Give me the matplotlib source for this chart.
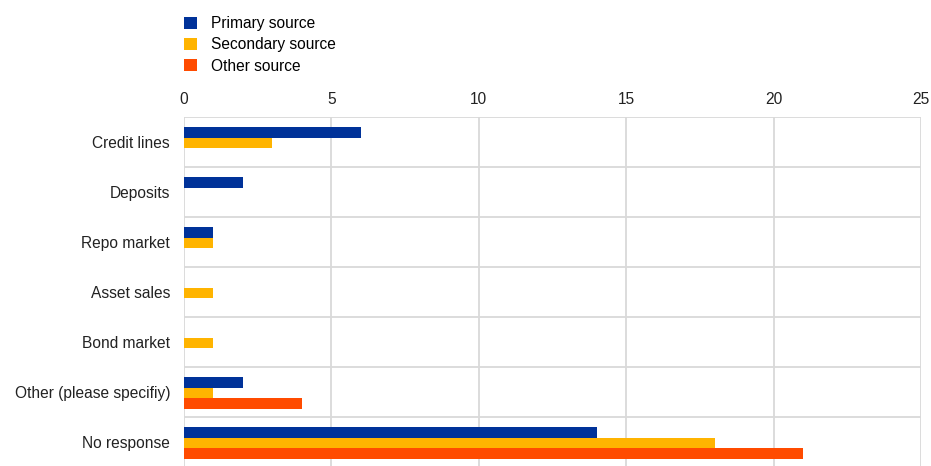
import matplotlib
matplotlib.use("Agg")
import matplotlib.pyplot as plt
import numpy as np

categories = ["Credit lines", "Deposits", "Repo market", "Asset sales",
              "Bond market", "Other (please specifiy)", "No response"]
primary = [6, 2, 1, 0, 0, 2, 14]
secondary = [3, 0, 1, 1, 1, 1, 18]
other = [0, 0, 0, 0, 0, 4, 21]
series_names = ["Primary source", "Secondary source", "Other source"]
colors = ["#003299", "#FFB400", "#FF4B00"]
xticks = [0, 5, 10, 15, 20, 25]

plt.rcParams['font.family'] = ['Liberation Sans', 'DejaVu Sans']

fig = plt.figure(figsize=(9.31, 4.66), dpi=100)
ax = fig.add_axes([184/931, -1/466, (921-184)/931, (467-117)/466])

y = np.arange(len(categories))
h = 0.21
for i, (vals, name, c) in enumerate(zip([primary, secondary, other], series_names, colors)):
    ax.barh(y + (i - 1) * h + 0.02, vals, height=h, color=c, label=name, zorder=3)

ax.set_xlim(0, 25)
ax.set_ylim(len(categories) - 0.5, -0.5)
ax.set_xticks(xticks)
ax.xaxis.tick_top()
ax.tick_params(axis='x', length=0, pad=7, labelsize=11.2, colors='#222222')
ax.set_yticks(y)
ax.set_yticklabels(categories)
ax.tick_params(axis='y', length=0, pad=10, labelsize=11.2, colors='#222222')

for s in ax.spines.values():
    s.set_visible(False)

ax.grid(axis='x', color='#d9d9d9', linewidth=1.3, zorder=0)
for b in np.arange(-0.5, len(categories) - 0.5, 1.0):
    ax.axhline(b, color='#d9d9d9', linewidth=1.3, zorder=0)

handles, labels = ax.get_legend_handles_labels()
fig.legend(handles, labels, loc='upper left', bbox_to_anchor=(181/931, 1 - 13/466),
           frameon=False, fontsize=11.2, handlelength=0.85, handleheight=0.85,
           handletextpad=0.9, labelspacing=0.4, borderaxespad=0, borderpad=0.2)

fig.savefig("out.png", dpi=100)
